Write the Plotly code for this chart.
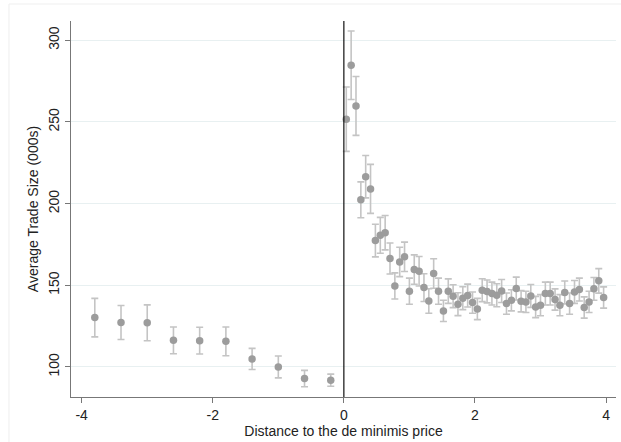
import plotly.graph_objects as go

# Left of the de minimis price (wide bins)
left_x = [-3.8, -3.4, -3.0, -2.6, -2.2, -1.8, -1.4, -1.0, -0.6, -0.2]
left_y = [130.2, 127.2, 127.0, 116.3, 116.1, 115.7, 104.9, 100.0, 92.9, 91.9]
left_err = [11.8, 10.4, 11.0, 8.2, 8.2, 8.8, 6.5, 6.7, 5.0, 3.7]

# Right of the de minimis price (narrow bins)
right_x = [0.037, 0.111, 0.185, 0.259, 0.333, 0.407, 0.481, 0.556, 0.630, 0.704,
           0.778, 0.852, 0.926, 1.000, 1.074, 1.148, 1.222, 1.296, 1.370, 1.444,
           1.519, 1.593, 1.667, 1.741, 1.815, 1.889, 1.963, 2.037, 2.111, 2.185,
           2.259, 2.333, 2.407, 2.481, 2.556, 2.630, 2.704, 2.778, 2.852, 2.926,
           3.000, 3.074, 3.148, 3.222, 3.296, 3.370, 3.444, 3.519, 3.593, 3.667,
           3.741, 3.815, 3.889, 3.963]
right_y = [251.7, 284.7, 259.8, 202.3, 216.5, 209.0, 177.4, 180.6, 182.2, 166.4,
           149.6, 164.3, 167.4, 146.4, 159.6, 158.6, 148.6, 140.4, 157.2, 146.4,
           134.3, 146.4, 143.3, 138.4, 142.1, 143.7, 139.4, 135.5, 147.0, 146.2,
           144.9, 143.9, 146.5, 138.8, 140.8, 148.0, 140.2, 139.8, 143.5, 136.7,
           137.8, 144.9, 144.9, 141.3, 137.8, 145.6, 138.8, 145.9, 147.4, 136.4,
           139.8, 147.8, 152.7, 142.5]
right_err = [19.7, 21.0, 18.0, 11.0, 13.0, 15.0, 10.0, 11.0, 10.5, 9.5,
             8.0, 9.0, 9.0, 8.0, 9.0, 9.0, 8.5, 7.5, 9.0, 8.0,
             6.5, 7.5, 7.0, 7.0, 7.0, 7.0, 6.5, 6.5, 7.0, 7.0,
             7.0, 7.0, 7.0, 6.5, 6.5, 7.0, 6.5, 6.5, 7.0, 6.5,
             6.5, 7.0, 7.0, 6.5, 6.5, 7.0, 6.5, 7.0, 7.0, 6.5,
             6.5, 7.0, 7.5, 6.5]

x_ticks = [-4, -2, 0, 2, 4]
y_ticks = [100, 150, 200, 250, 300]

FONT = "Liberation Sans, Arial, Helvetica, sans-serif"
err_style = dict(type="data", visible=True, color="#c4c4c4", thickness=1.6, width=3.5)
marker_style = dict(color="#9c9c9c", size=7.5, line=dict(width=0))

fig = go.Figure()
fig.add_trace(go.Scatter(x=left_x, y=left_y, mode="markers",
                         error_y=dict(array=left_err, **err_style),
                         marker=marker_style, showlegend=False))
fig.add_trace(go.Scatter(x=right_x, y=right_y, mode="markers",
                         error_y=dict(array=right_err, **err_style),
                         marker=marker_style, showlegend=False))

fig.add_vline(x=0, line=dict(color="#111111", width=1.2))

# faint graph-region outline (Stata style)
fig.add_shape(type="rect", xref="paper", yref="paper",
              x0=-0.1138, x1=1.2, y0=-0.3, y1=1.0452,
              line=dict(color="#efefef", width=1), fillcolor="rgba(0,0,0,0)",
              layer="below")

fig.update_layout(
    width=621, height=442,
    margin=dict(l=71, r=5, t=21, b=45, autoexpand=False),
    paper_bgcolor="white", plot_bgcolor="white",
    font=dict(family=FONT, size=14, color="#222222"),
    xaxis=dict(range=[-4.163, 4.152], tickvals=x_ticks, ticktext=[str(v) for v in x_ticks],
               showgrid=False, zeroline=False, showline=True, linecolor="#777777",
               linewidth=1.2, ticks="outside", ticklen=5, tickcolor="#777777",
               automargin=False,
               title=dict(text="Distance to the de minimis price", standoff=4,
                          font=dict(size=14))),
    yaxis=dict(range=[81.6, 311.8], tickvals=y_ticks, ticktext=[str(v) for v in y_ticks],
               tickangle=-90, showgrid=True, gridcolor="#e8f0f1", gridwidth=1,
               zeroline=False, showline=True, linecolor="#777777", linewidth=1.2,
               ticks="outside", ticklen=5, tickcolor="#777777", automargin=False,
               title=dict(text="Average Trade Size (000s)", standoff=4,
                          font=dict(size=14))),
)

fig.write_html("out.html", config={"displayModeBar": False},
               post_script="document.body.style.margin='0px';document.body.style.padding='0px';")
